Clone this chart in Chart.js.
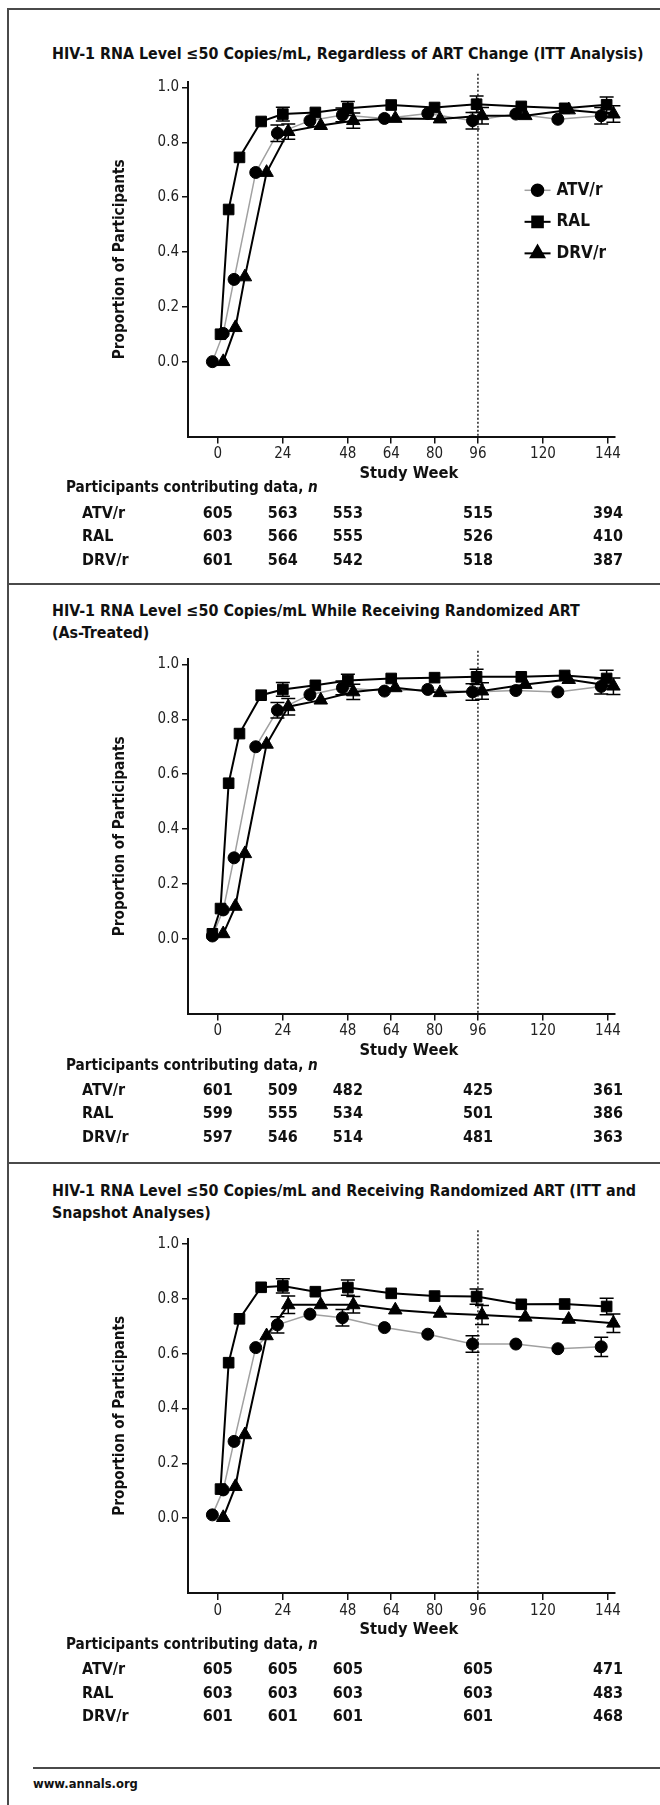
<!DOCTYPE html>
<html>
<head>
<meta charset="utf-8">
<script src="https://cdn.jsdelivr.net/npm/chart.js@4.4.0/dist/chart.umd.min.js"></script>
<style>
html, body { margin: 0; padding: 0; background: #fff; }
body { width: 660px; height: 1805px; position: relative; overflow: hidden;
       font-family: "Liberation Sans Narrow", "Arial Narrow", "DejaVu Sans Condensed", Roboto, sans-serif; color: #111; }
.rule { position: absolute; background: #4a4a4a; }
.ttl { position: absolute; left: 52px; font-weight: bold; font-size: 16px; line-height: 22px; white-space: nowrap; }
canvas { position: absolute; left: 0; }
#foot { position: absolute; left: 33px; top: 1776px; font-weight: bold; font-size: 15px; }
</style>
</head>
<body>

<div class="rule" style="left:7px;top:8px;width:2px;height:1797px"></div>
<div class="rule" style="left:7px;top:8px;width:653px;height:2px"></div>
<div class="rule" style="left:7px;top:583px;width:653px;height:2px"></div>
<div class="rule" style="left:7px;top:1162px;width:653px;height:2px"></div>
<div class="rule" style="left:33px;top:1767px;width:627px;height:2px"></div>

<div class="ttl" id="t1" style="top:43px">HIV-1 RNA Level ≤50 Copies/mL, Regardless of ART Change (ITT Analysis)</div>
<div class="ttl" style="top:600px">HIV-1 RNA Level ≤50 Copies/mL While Receiving Randomized ART<br>(As-Treated)</div>
<div class="ttl" style="top:1180px">HIV-1 RNA Level ≤50 Copies/mL and Receiving Randomized ART (ITT and<br>Snapshot Analyses)</div>

<canvas id="c1" width="660" height="572" style="top:11px"></canvas>
<canvas id="c2" width="660" height="576" style="top:586px"></canvas>
<canvas id="c3" width="660" height="600" style="top:1165px"></canvas>

<div id="foot">www.annals.org</div>

<script>
const FONT = '"Liberation Sans Narrow", "Arial Narrow", "DejaVu Sans Condensed", Roboto, sans-serif';

// series and axes
const seriesNames = ['ATV/r', 'RAL', 'DRV/r'];
const xTicks = [0, 24, 48, 64, 80, 96, 120, 144];
const yTicks = [0, 0.2, 0.4, 0.6, 0.8, 1.0];
const X_MIN = -11, X_MAX = 146.4;
const Y_MIN = -0.273, Y_MAX = 1.02;
const refWeek = 96;

// plotted week positions (groups are staggered in the figure)
const weeksAtv = [-2, 2, 6, 14, 22, 34, 46, 61.5, 77.5, 94, 110, 125.5, 141.5];
const weeksRal = [-2, 1, 4, 8, 16, 24, 36, 48, 64, 80, 95.5, 112, 128, 143.5];
const weeksDrv = [2, 6.5, 10, 18, 26, 38, 50, 65.5, 82, 97.5, 113.5, 129.5, 146];

// panel 1: ITT, regardless of ART change
const p1Atv = [0.0, 0.103, 0.30, 0.69, 0.833, 0.879, 0.90, 0.887, 0.905, 0.879, 0.903, 0.884, 0.897];
const p1Ral = [null, 0.10, 0.555, 0.745, 0.876, 0.903, 0.909, 0.924, 0.936, 0.927, 0.939, 0.931, 0.924, 0.937];
const p1Drv = [0.0, 0.124, 0.309, 0.69, 0.839, 0.861, 0.879, 0.887, 0.885, 0.897, 0.897, 0.918, 0.903];

// panel 2: as-treated
const p2Atv = [0.01, 0.105, 0.295, 0.70, 0.833, 0.89, 0.915, 0.903, 0.909, 0.90, 0.905, 0.90, 0.92];
const p2Ral = [0.018, 0.11, 0.567, 0.748, 0.888, 0.909, 0.924, 0.942, 0.949, 0.952, 0.955, 0.955, 0.96, 0.949];
const p2Drv = [0.018, 0.118, 0.31, 0.709, 0.846, 0.87, 0.90, 0.915, 0.897, 0.903, 0.927, 0.945, 0.921];

// panel 3: ITT snapshot
const p3Atv = [0.012, 0.103, 0.28, 0.622, 0.705, 0.744, 0.731, 0.695, 0.671, 0.635, 0.635, 0.618, 0.625];
const p3Ral = [null, 0.106, 0.567, 0.727, 0.842, 0.847, 0.826, 0.841, 0.82, 0.81, 0.808, 0.78, 0.781, 0.772];
const p3Drv = [0.002, 0.115, 0.304, 0.665, 0.778, 0.778, 0.778, 0.759, 0.747, 0.741, 0.733, 0.725, 0.711];

// error bars (half width) at weeks 24, 48, 96, 144
const ciIdxAtv = [4, 6, 9, 12];
const ciIdxRal = [5, 7, 10, 13];
const ciIdxDrv = [4, 6, 9, 12];
const p1CiAtv = [0.03, 0.025, 0.03, 0.03];
const p1CiRal = [0.025, 0.025, 0.03, 0.028];
const p1CiDrv = [0.028, 0.028, 0.03, 0.03];
const p2CiAtv = [0.028, 0.025, 0.03, 0.028];
const p2CiRal = [0.025, 0.022, 0.028, 0.03];
const p2CiDrv = [0.03, 0.028, 0.03, 0.03];
const p3CiAtv = [0.03, 0.03, 0.03, 0.035];
const p3CiRal = [0.026, 0.028, 0.028, 0.03];
const p3CiDrv = [0.032, 0.03, 0.035, 0.034];

// participants contributing data, n
const nWeeks = [0, 24, 48, 96, 144];
const p1N = [[605, 563, 553, 515, 394], [603, 566, 555, 526, 410], [601, 564, 542, 518, 387]];
const p2N = [[601, 509, 482, 425, 361], [599, 555, 534, 501, 386], [597, 546, 514, 481, 363]];
const p3N = [[605, 605, 605, 605, 471], [603, 603, 603, 603, 483], [601, 601, 601, 601, 468]];

// pick some font sizes so that text widths match the figure
const mctx = document.createElement('canvas').getContext('2d');
function fitSize(text, weight, target) {
  mctx.font = weight + ' 100px ' + FONT;
  return 100 * target / mctx.measureText(text).width;
}
const titleSize = fitSize(document.getElementById('t1').textContent, 'bold', 592);
document.querySelectorAll('.ttl').forEach(el => { el.style.fontSize = titleSize.toFixed(2) + 'px'; });
document.getElementById('foot').style.fontSize = fitSize('www.annals.org', 'bold', 105).toFixed(2) + 'px';
const headSize = fitSize('Participants contributing data, n', 'bold', 252);
const axisTitleSize = fitSize('Proportion of Participants', 'bold', 200);
const weekTitleSize = fitSize('Study Week', 'bold', 99);
const legendSize = fitSize('ATV/r', 'bold', 46);
const numSize = 16, rowSize = 16, tickSize = 15;

function pts(weeks, vals) {
  return weeks.map((w, i) => ({ x: w, y: vals[i] }));
}

const errorBars = {
  id: 'errorBars',
  afterDatasetsDraw(chart, args, opts) {
    const { ctx, scales: { x, y } } = chart;
    ctx.save();
    ctx.strokeStyle = '#000';
    ctx.lineWidth = 1.5;
    opts.sets.forEach(s => {
      const ds = chart.data.datasets[s.ds];
      s.idx.forEach((k, j) => {
        const p = ds.data[k];
        const px = x.getPixelForValue(p.x);
        const y1 = y.getPixelForValue(p.y + s.half[j]);
        const y2 = y.getPixelForValue(p.y - s.half[j]);
        ctx.beginPath();
        ctx.moveTo(px, y1); ctx.lineTo(px, y2);
        ctx.moveTo(px - 7, y1); ctx.lineTo(px + 7, y1);
        ctx.moveTo(px - 7, y2); ctx.lineTo(px + 7, y2);
        ctx.stroke();
      });
    });
    ctx.restore();
  }
};

// x title and the "participants contributing data" table under the axis
const nTable = {
  id: 'nTable',
  afterDraw(chart, args, opts) {
    const { ctx, chartArea, scales: { x } } = chart;
    const b = chartArea.bottom;
    ctx.save();
    ctx.fillStyle = '#111';
    ctx.textBaseline = 'middle';
    ctx.textAlign = 'center';
    ctx.font = 'bold ' + weekTitleSize + 'px ' + FONT;
    ctx.fillText('Study Week', x.getPixelForValue(70.5), b + 37);
    ctx.textAlign = 'left';
    ctx.font = 'bold ' + headSize + 'px ' + FONT;
    const head = 'Participants contributing data, ';
    ctx.fillText(head, 66, b + 52);
    const w = ctx.measureText(head).width;
    ctx.font = 'italic bold ' + headSize + 'px ' + FONT;
    ctx.fillText('n', 66 + w, b + 52);
    opts.rows.forEach((row, r) => {
      const yy = b + 77 + r * 23.5;
      ctx.textAlign = 'left';
      ctx.font = 'bold ' + rowSize + 'px ' + FONT;
      ctx.fillText(seriesNames[r], 82, yy);
      ctx.textAlign = 'center';
      ctx.font = 'bold ' + numSize + 'px ' + FONT;
      row.forEach((n, c) => ctx.fillText(String(n), x.getPixelForValue(nWeeks[c]), yy));
    });
    ctx.restore();
  }
};

const sideLegend = {
  id: 'sideLegend',
  afterDraw(chart, args, opts) {
    if (!opts.show) return;
    const { ctx, scales: { x, y } } = chart;
    const ds = chart.data.datasets;
    ctx.save();
    opts.rows.forEach((v, i) => {
      const d = ds[i];
      const cx = x.getPixelForValue(opts.week), cy = y.getPixelForValue(v);
      ctx.strokeStyle = d.borderColor;
      ctx.lineWidth = d.borderWidth;
      ctx.beginPath(); ctx.moveTo(cx - 13, cy); ctx.lineTo(cx + 13, cy); ctx.stroke();
      ctx.fillStyle = '#000'; ctx.strokeStyle = '#000';
      Chart.helpers.drawPoint(ctx, { pointStyle: d.pointStyle, radius: d.pointRadius, borderWidth: 1 }, cx, cy);
      ctx.fillStyle = '#111';
      ctx.font = 'bold ' + legendSize + 'px ' + FONT;
      ctx.textBaseline = 'middle';
      ctx.textAlign = 'left';
      ctx.fillText(seriesNames[i], cx + 19, cy);
    });
    ctx.restore();
  }
};

function series(label, weeks, vals, color, width, style, radius, order) {
  return {
    label, data: pts(weeks, vals), borderColor: color, borderWidth: width,
    pointStyle: style, pointRadius: radius, pointBackgroundColor: '#000', pointBorderColor: '#000',
    pointBorderWidth: 1, tension: 0, clip: false, order
  };
}

function makePanel(id, areaTop, areaBottom, atv, ral, drv, ciA, ciR, ciD, nRows, showLegend) {
  const canvas = document.getElementById(id);
  const H = canvas.height;
  const xAxisH = 47;
  const axisLeft = 188, titleX = 120;
  const yTitleLine = axisTitleSize * 1.2;
  new Chart(canvas, {
    type: 'line',
    data: {
      datasets: [
        series(seriesNames[0], weeksAtv, atv, '#a0a0a0', 1.5, 'circle', 6, 2),
        series(seriesNames[1], weeksRal, ral, '#000', 2, 'rect', 7.5, 0),
        series(seriesNames[2], weeksDrv, drv, '#000', 2, 'triangle', 7.8, 1),
        { label: 'week 96', data: [{ x: refWeek, y: 1.05 }, { x: refWeek, y: Y_MIN }],
          borderColor: '#222', borderWidth: 1.5, borderDash: [2, 2], pointRadius: 0, clip: false, order: 3 }
      ]
    },
    options: {
      responsive: false, animation: false, devicePixelRatio: 1,
      layout: { padding: { left: titleX - yTitleLine / 2, right: 660 - 614.5, top: areaTop, bottom: H - areaBottom - xAxisH } },
      plugins: {
        legend: { display: false }, tooltip: { enabled: false },
        errorBars: { sets: [ { ds: 0, idx: ciIdxAtv, half: ciA }, { ds: 1, idx: ciIdxRal, half: ciR }, { ds: 2, idx: ciIdxDrv, half: ciD } ] },
        nTable: { rows: nRows },
        sideLegend: { show: showLegend, week: 118, rows: [0.625, 0.51, 0.395] }
      },
      scales: {
        x: {
          type: 'linear', min: X_MIN, max: X_MAX,
          afterBuildTicks: s => { s.ticks = xTicks.map(v => ({ value: v })); },
          afterFit: s => { s.height = xAxisH; },
          ticks: { autoSkip: false, maxRotation: 0, padding: 2, color: '#222', font: { family: FONT, size: tickSize }, callback: v => String(v) },
          grid: { display: true, drawOnChartArea: false, drawTicks: true, tickLength: 7, color: '#111', lineWidth: 1.5 },
          border: { display: true, color: '#111', width: 2 },
          title: { display: false }
        },
        y: {
          type: 'linear', min: Y_MIN, max: Y_MAX,
          afterBuildTicks: s => { s.ticks = yTicks.map(v => ({ value: v })); },
          afterFit: s => { s.width = axisLeft - (titleX - yTitleLine / 2); },
          ticks: { autoSkip: false, padding: 3, color: '#222', font: { family: FONT, size: tickSize }, callback: v => v.toFixed(1) },
          grid: { display: true, drawOnChartArea: false, drawTicks: true, tickLength: 6, color: '#111', lineWidth: 1.5 },
          border: { display: true, color: '#111', width: 2 },
          title: { display: true, text: 'Proportion of Participants', color: '#111', padding: 0, font: { family: FONT, size: axisTitleSize, weight: 'bold' } }
        }
      }
    },
    plugins: [errorBars, nTable, sideLegend]
  });
}

makePanel('c1', 71, 425.5, p1Atv, p1Ral, p1Drv, p1CiAtv, p1CiRal, p1CiDrv, p1N, true);
makePanel('c2', 73, 427.6, p2Atv, p2Ral, p2Drv, p2CiAtv, p2CiRal, p2CiDrv, p2N, false);
makePanel('c3', 73.5, 428, p3Atv, p3Ral, p3Drv, p3CiAtv, p3CiRal, p3CiDrv, p3N, false);
</script>
</body>
</html>
